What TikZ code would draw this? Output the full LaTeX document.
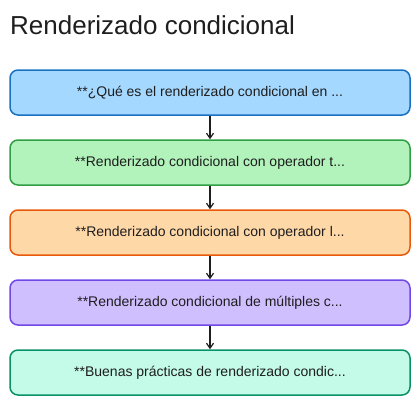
\documentclass[tikz,border=0pt]{standalone}
\usepackage{fontspec}
\setmainfont{Liberation Sans}
\usetikzlibrary{arrows.meta}
\definecolor{ink}{HTML}{1E1E1E}
\definecolor{blueFill}{HTML}{A5D8FF}
\definecolor{blueLine}{HTML}{1971C2}
\definecolor{greenFill}{HTML}{B2F2BB}
\definecolor{greenLine}{HTML}{2F9E44}
\definecolor{orangeFill}{HTML}{FFD8A8}
\definecolor{orangeLine}{HTML}{E8590C}
\definecolor{violetFill}{HTML}{D0BFFF}
\definecolor{violetLine}{HTML}{7048E8}
\definecolor{tealFill}{HTML}{C3FAE8}
\definecolor{tealLine}{HTML}{099268}
\tikzset{
	topicbox/.style={rectangle, rounded corners=8pt, line width=1.5pt, minimum width=400pt, minimum height=45pt, text=ink, font=\fontsize{14}{16}\selectfont},
	flow/.style={-{Straight Barb[length=5pt,width=7pt]}, line width=1.2pt, draw=ink}
}
\newcommand{\Topic}[4]{\node[topicbox, fill=#2Fill, draw=#2Line] (#1) at (210,#3) {#4};}

\begin{document}
\begin{tikzpicture}[x=1pt,y=-1pt]
	\useasboundingbox (0,0) rectangle (420,405);
	\node[anchor=base west, text=ink, font=\fontsize{26}{30}\selectfont, inner sep=0pt] (title) at (10,34) {Renderizado condicional};

	\Topic{T1}{blue}{92.5}{**¿Qué es el renderizado condicional en ...}
	\Topic{T2}{green}{162.5}{**Renderizado condicional con operador t...}
	\Topic{T3}{orange}{232.5}{**Renderizado condicional con operador l...}
	\Topic{T4}{violet}{302.5}{**Renderizado condicional de múltiples c...}
	\Topic{T5}{teal}{372.5}{**Buenas prácticas de renderizado condic...}

	\draw[flow] (T1) -- (T2);
	\draw[flow] (T2) -- (T3);
	\draw[flow] (T3) -- (T4);
	\draw[flow] (T4) -- (T5);

\end{tikzpicture}
\end{document}
